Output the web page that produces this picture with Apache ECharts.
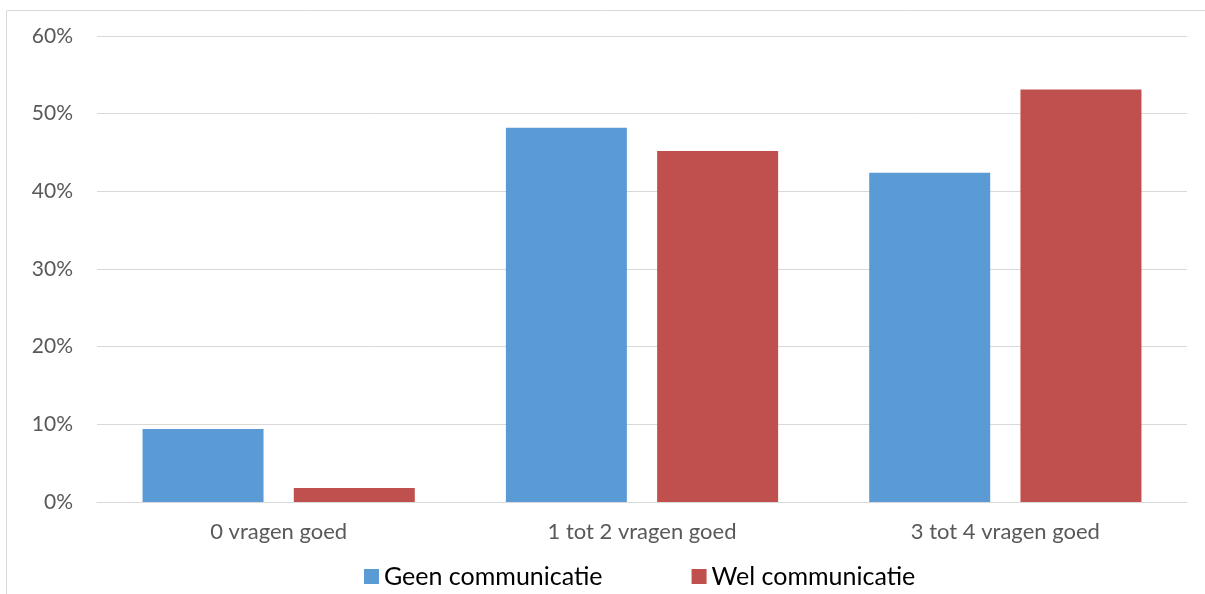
<!DOCTYPE html>
<html><head><meta charset="utf-8">
<script src="https://cdn.jsdelivr.net/npm/echarts@6/dist/echarts.min.js"></script>
<style>html,body{margin:0;padding:0;background:#fff}#c{width:1205px;height:594px}</style>
</head><body><div id="c"></div>
<script>
const categories = ['0 vragen goed', '1 tot 2 vragen goed', '3 tot 4 vragen goed'];
const geen = [9.4, 48.2, 42.4];
const wel = [1.8, 45.2, 53.1];
const seriesNames = ['Geen communicatie', 'Wel communicatie'];

const chart = echarts.init(document.getElementById('c'));
chart.setOption({
  animation: false,
  textStyle: {fontFamily: 'Lato'},
  graphic: [{type: 'rect', shape: {x: 6.5, y: 10.5, width: 1400, height: 800}, style: {fill: 'none', stroke: '#d9d9d9', lineWidth: 1}, silent: true}],
  grid: {left: 97, right: 18, top: 36, bottom: 92, containLabel: false},
  legend: {
    top: 559, left: 359, itemGap: 89, itemWidth: 15, itemHeight: 15,
    icon: 'rect',
    textStyle: {fontSize: 25, color: '#000', fontFamily: 'Lato'},
    data: seriesNames
  },
  xAxis: {
    type: 'category', data: categories,
    axisLine: {lineStyle: {color: '#d9d9d9', width: 1}},
    axisTick: {show: false},
    axisLabel: {fontSize: 22, color: '#595959', margin: 19, fontFamily: 'Lato'}
  },
  yAxis: {
    type: 'value', min: 0, max: 60, interval: 10,
    axisLine: {show: false}, axisTick: {show: false},
    axisLabel: {formatter: '{value}%', fontSize: 21, color: '#595959', margin: 24, fontFamily: 'Lato'},
    splitLine: {lineStyle: {color: '#d9d9d9', width: 1}}
  },
  series: [
    {name: seriesNames[0], type: 'bar', data: geen, barWidth: 121, barGap: '25%', itemStyle: {color: '#5B9BD5'}},
    {name: seriesNames[1], type: 'bar', data: wel, barWidth: 121, itemStyle: {color: '#C0504D'}}
  ]
});
</script></body></html>
